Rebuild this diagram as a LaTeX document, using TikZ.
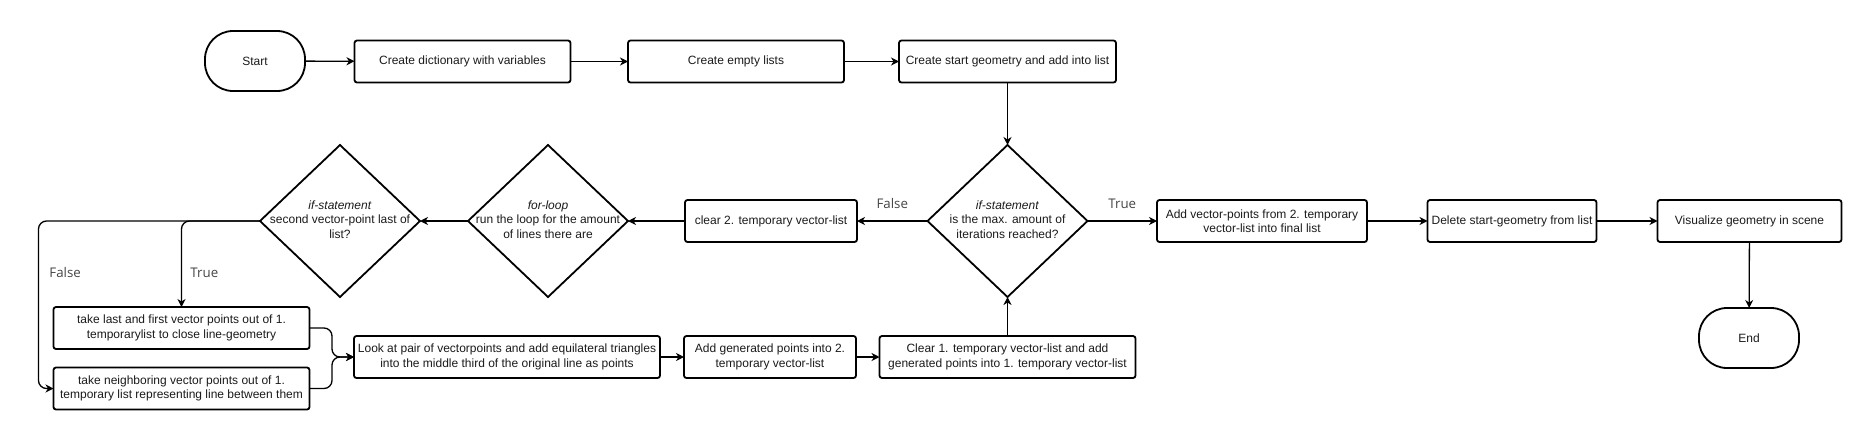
\documentclass[tikz,border=0pt]{standalone}
\usepackage{fontspec}
\setmainfont{Liberation Sans}
\newfontfamily\lblfont{Open Sans}
\usepackage{tkz-graph}
\usetikzlibrary{arrows}
\usetikzlibrary{arrows.meta}
\usetikzlibrary{shapes}
\definecolor{textgray}{HTML}{1A1A1A}
\definecolor{lblgray}{HTML}{444444}

\begin{document}
\begin{tikzpicture}[x = 1pt, y = -1pt]
	\useasboundingbox (0,0) rectangle (1872,440);
	\tikzstyle{VertexStyle} = []
	\tikzstyle{EdgeStyle} = [-{Stealth[length = 8pt, width = 8pt, inset = 2.5pt]}, line width = 1.3pt]
	\tikzstyle{RouteStyle} = [EdgeStyle, rounded corners = 8pt]
	\tikzstyle{stepStyle} = [shape = rectangle, draw, line width = 1.8pt, rounded corners = 2.5pt, minimum height = 42pt, inner sep = 1pt, align = center, text = textgray, font = \fontsize{12}{14.5}\selectfont]
	\tikzstyle{termStyle} = [shape = rectangle, draw, line width = 1.8pt, rounded corners = 28pt, minimum width = 100pt, minimum height = 60pt, text = textgray, font = \fontsize{12}{14.5}\selectfont]
	\tikzstyle{decisionStyle} = [shape = diamond, draw, line width = 1.8pt, minimum width = 160pt, minimum height = 152pt, inner sep = 0pt, text = textgray, font = \fontsize{12}{14.5}\selectfont]
	\tikzstyle{lblStyle} = [text = lblgray, font = \lblfont\fontsize{13.3}{16}\selectfont]
	\Vertex[style = termStyle, x = 255, y = 61, L = {Start}]{start}
	\Vertex[style = {stepStyle, minimum width = 216pt}, x = 462.5, y = 61.5, L = {Create dictionary with variables}]{dict}
	\Vertex[style = {stepStyle, minimum width = 216pt}, x = 736, y = 61.5, L = {Create empty lists}]{lists}
	\Vertex[style = {stepStyle, minimum width = 217pt}, x = 1007.5, y = 61.5, L = {Create start geometry and add into list}]{geom}
	\Vertex[style = decisionStyle, x = 1007.5, y = 221, L = {\makebox[0pt]{\begin{tabular}{@{}c@{}}\textit{if-statement}\\is the max. amount of\\iterations reached?\end{tabular}}}]{iter}
	\Vertex[style = {stepStyle, minimum width = 172pt}, x = 771, y = 221, L = {clear 2. temporary vector-list}]{clear2}
	\Vertex[style = decisionStyle, x = 548, y = 221, L = {\makebox[0pt]{\begin{tabular}{@{}c@{}}\textit{for-loop}\\run the loop for the amount\\of lines there are\end{tabular}}}]{loop}
	\Vertex[style = decisionStyle, x = 340, y = 221, L = {\makebox[0pt]{\begin{tabular}{@{}c@{}}\textit{if-statement}\\second vector-point last of\\list?\end{tabular}}}]{lastq}
	\Vertex[style = {stepStyle, minimum width = 210pt}, x = 1262, y = 221, L = {Add vector-points from 2. temporary\\vector-list into final list}]{final}
	\Vertex[style = {stepStyle, minimum width = 169pt}, x = 1512, y = 221, L = {Delete start-geometry from list}]{delete}
	\Vertex[style = {stepStyle, minimum width = 184pt}, x = 1749.5, y = 221, L = {Visualize geometry in scene}]{visual}
	\Vertex[style = termStyle, x = 1749, y = 338, L = {End}]{stop}
	\Vertex[style = {stepStyle, minimum width = 256pt}, x = 181.5, y = 328, L = {take last and first vector points out of 1.\\temporarylist to close line-geometry}]{closing}
	\Vertex[style = {stepStyle, minimum width = 256pt}, x = 181.5, y = 388.5, L = {take neighboring vector points out of 1.\\temporary list representing line between them}]{neighbor}
	\Vertex[style = {stepStyle, minimum width = 306pt}, x = 507, y = 357, L = {Look at pair of vectorpoints and add equilateral triangles\\into the middle third of the original line as points}]{triangle}
	\Vertex[style = {stepStyle, minimum width = 172pt}, x = 770, y = 357, L = {Add generated points into 2.\\temporary vector-list}]{clear2add}
	\Vertex[style = {stepStyle, minimum width = 256pt}, x = 1007.5, y = 357, L = {Clear 1. temporary vector-list and add\\generated points into 1. temporary vector-list}]{clear1}
	\Edge(start)(dict)
	\Edge(dict)(lists)
	\Edge(lists)(geom)
	\Edge(geom)(iter)
	\Edge(final)(delete)
	\Edge(delete)(visual)
	\Edge(visual)(stop)
	\Edge(clear2)(loop)
	\Edge(loop)(lastq)
	\Edge(triangle)(clear2add)
	\Edge(clear2add)(clear1)
	\Edge(clear1)(iter)
	\draw[EdgeStyle] (iter) -- node[lblStyle, above = 8pt] (falseA) {False} (clear2);
	\draw[EdgeStyle] (iter) -- node[lblStyle, above = 8pt] (trueA) {True} (final);
	\draw[RouteStyle] (lastq.west) -| node[lblStyle, pos = 0.8, right = 5pt] (trueB) {True} (closing.north);
	\draw[RouteStyle] (lastq.west) -| node[lblStyle, pos = 0.655, right = 7pt] (falseB) {False} ([xshift = -15pt]neighbor.west) -- (neighbor.west);
	\draw[RouteStyle] (closing.east) -| ([xshift = -22pt]triangle.west) -- (triangle.west);
	\draw[RouteStyle] (neighbor.east) -| ([xshift = -22pt]triangle.west) -- (triangle.west);
\end{tikzpicture}
\end{document}
